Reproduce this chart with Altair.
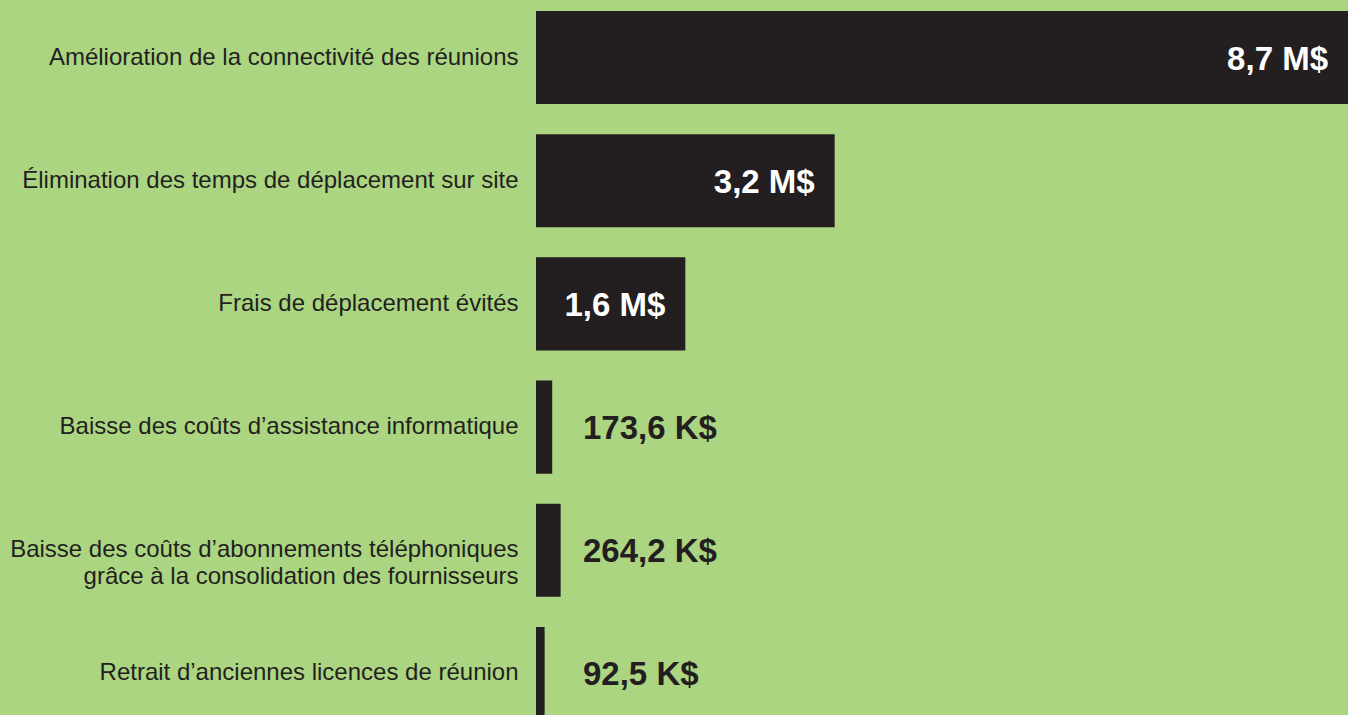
import altair as alt
import pandas as pd

categories = [
    "Amélioration de la connectivité des réunions",
    "Élimination des temps de déplacement sur site",
    "Frais de déplacement évités",
    "Baisse des coûts d’assistance informatique",
    "Baisse des coûts d’abonnements téléphoniques|grâce à la consolidation des fournisseurs",
    "Retrait d’anciennes licences de réunion",
]
values_musd = [8.7, 3.2, 1.6, 0.1736, 0.2642, 0.0925]
value_labels = ["8,7 M$", "3,2 M$", "1,6 M$", "173,6 K$", "264,2 K$", "92,5 K$"]

df = pd.DataFrame({"cat": categories, "val": values_musd, "lab": value_labels})

BG = "#acd582"
DARK = "#231f20"

y_enc = alt.Y(
    "cat:N",
    sort=categories,
    scale=alt.Scale(range=[11, 720], paddingInner=0.244, paddingOuter=0),
    axis=alt.Axis(
        title=None,
        domain=False,
        ticks=False,
        labelPadding=18,
        labelFontSize=24,
        labelFont="Liberation Sans",
        labelColor=DARK,
        labelLimit=700,
        labelLineHeight=27,
        labelExpr="split(datum.label, '|')",
    ),
)
x_scale = alt.Scale(domain=[0, 8.7], range=[0, 812], nice=False, zero=True)

bars = alt.Chart(df).mark_bar(color=DARK).encode(
    y=y_enc,
    x=alt.X("val:Q", scale=x_scale, axis=None),
)

inside = alt.Chart(df).transform_filter("datum.val >= 1").mark_text(
    align="right", baseline="middle", dx=-20, dy=2, fontSize=33, fontWeight="bold",
    font="Liberation Sans", color="white",
).encode(
    y=alt.Y("cat:N", sort=categories),
    x=alt.X("val:Q", scale=x_scale),
    text="lab:N",
)

outside = alt.Chart(df).transform_filter("datum.val < 1").mark_text(
    align="left", baseline="middle", dx=47, dy=2, fontSize=33, fontWeight="bold",
    font="Liberation Sans", color=DARK,
).encode(
    y=alt.Y("cat:N", sort=categories),
    x=alt.datum(0, scale=x_scale),
    text="lab:N",
)

chart = alt.layer(bars, inside, outside).properties(
    width=812,
    height=715,
    background=BG,
    padding={"left": 536, "top": 0, "right": 0, "bottom": 0},
    autosize=alt.AutoSizeParams(type="none"),
).configure_view(strokeWidth=0)

chart.save("out.html", embed_options={"renderer": "svg", "actions": False})
